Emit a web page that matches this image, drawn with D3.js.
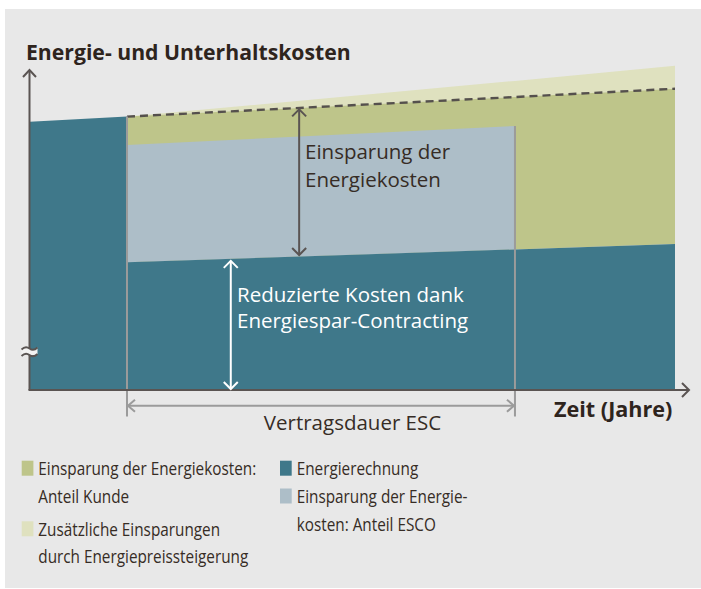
<!DOCTYPE html>
<html><head><meta charset="utf-8">
<script src="https://cdn.jsdelivr.net/npm/d3@7"></script>
<style>body{margin:0;background:#fff}svg{display:block}</style>
</head><body>
<script>
// ---- data (arbitrary cost units, years) ----
const years = [0, 2, 10, 13.3];
const costWithoutMeasures = [100, 101.9, 109.2, 112.3];       // dashed line / energy bill before
const costWithPriceIncrease = [null, 101.9, 115.2, 120.9];    // top of light olive
const escoShareTop = [null, 91.3, 98.4, null];                // top of light blue (ESCO share)
const reducedCost = [null, 47.6, 52.4, 54.4];                 // energy bill after measures
const contractStart = 2, contractEnd = 10;
const arrowYears = {savings: 5.55, reduced: 4.14};
const titleText = "Energie- und Unterhaltskosten";
const xAxisLabel = "Zeit (Jahre)";
const contractLabel = "Vertragsdauer ESC";
const savingsLabel = ["Einsparung der", "Energiekosten"];
const reducedLabel = ["Reduzierte Kosten dank", "Energiespar-Contracting"];
const legendLeft = [
  {key:"kunde", lines:["Einsparung der Energiekosten:", "Anteil Kunde"]},
  {key:"preis", lines:["Zusätzliche Einsparungen", "durch Energiepreissteigerung"]}
];
const legendRight = [
  {key:"rechnung", lines:["Energierechnung"]},
  {key:"esco", lines:["Einsparung der Energie-", "kosten: Anteil ESCO"]}
];
const colors = {kunde:"#bec58a", preis:"#dfe1bf", rechnung:"#3f788a", esco:"#adbec8"};

const W = 701, H = 589;
const FONT = "'Open Sans', 'Noto Sans', sans-serif";
const TXT = "#362c25", AX = "#5a5452", GRAY = "#9b9b9b";

const svg = d3.select("body").append("svg").attr("width", W).attr("height", H);
svg.append("rect").attr("x",5).attr("y",9).attr("width",W-5).attr("height",579).attr("fill","#e8e8e8");

const x = d3.scaleLinear().domain([0, 13.3]).range([30, 675]);
const y = d3.scaleLinear().domain([0, 100]).range([390, 121.7]);

const g = svg.append("g");

// light olive: between dashed baseline and price-increase line
g.append("path").datum([1,2,3].map(i => ({t:years[i], lo:costWithoutMeasures[i], hi:costWithPriceIncrease[i]})))
  .attr("d", d3.area().x(d=>x(d.t)).y0(d=>y(d.lo)).y1(d=>y(d.hi))).attr("fill", colors.preis);
// olive: between reduced cost and baseline
g.append("path").datum([1,2,3].map(i => ({t:years[i], lo:reducedCost[i], hi:costWithoutMeasures[i]})))
  .attr("d", d3.area().x(d=>x(d.t)).y0(d=>y(d.lo)).y1(d=>y(d.hi))).attr("fill", colors.kunde);
// light blue: ESCO share during contract
g.append("path").datum([1,2].map(i => ({t:years[i], lo:reducedCost[i], hi:escoShareTop[i]})))
  .attr("d", d3.area().x(d=>x(d.t)).y0(d=>y(d.lo)).y1(d=>y(d.hi))).attr("fill", colors.esco);
// teal: energy bill
const billPts = [{t:years[0], v:costWithoutMeasures[0]}, {t:years[1], v:costWithoutMeasures[1]},
                 {t:years[1], v:reducedCost[1]}, {t:years[2], v:reducedCost[2]}, {t:years[3], v:reducedCost[3]}];
g.append("path").datum(billPts)
  .attr("d", d3.area().x(d=>x(d.t)).y0(y(0)).y1(d=>y(d.v))).attr("fill", colors.rechnung);

// dashed baseline
g.append("path").datum([1,2,3].map(i => ({t:years[i], v:costWithoutMeasures[i]})))
  .attr("d", d3.line().x(d=>x(d.t)).y(d=>y(d.v)))
  .attr("fill","none").attr("stroke","#55504d").attr("stroke-width",2.4).attr("stroke-dasharray","8,5");

// contract vertical lines
const yBelow = 416.5;
g.append("line").attr("x1",x(contractStart)).attr("x2",x(contractStart))
  .attr("y1",y(costWithoutMeasures[1])).attr("y2",yBelow).attr("stroke",GRAY).attr("stroke-width",2);
g.append("line").attr("x1",x(contractEnd)).attr("x2",x(contractEnd))
  .attr("y1",y(escoShareTop[2])).attr("y2",yBelow).attr("stroke",GRAY).attr("stroke-width",2);

// axes
const axG = svg.append("g").attr("stroke",AX).attr("stroke-width",2).attr("fill","none");
axG.append("path").attr("d",`M${x(0)-0.5},${y(0)} V70`);
axG.append("path").attr("d",`M${x(0)-7},77 L${x(0)-0.5},70 L${x(0)+6},77`);
axG.append("path").attr("d",`M${x(0)-1.5},${y(0)} H689`);
axG.append("path").attr("d",`M682,${y(0)-7} L689,${y(0)} L682,${y(0)+7}`);

// axis break symbol
const bx = x(0)-0.5, by = 352;
svg.append("path").attr("d",`M${bx-8},${by-2.5} q4,-4 8,-1 t8,-1 L${bx+8},${by+2} q-4,2 -8,1 t-8,1 Z`).attr("fill","#f2f2f2");
svg.append("path").attr("d",`M${bx-8},${by-2.5} q4,-4 8,-1 t8,-1 M${bx-8},${by+4} q4,-4 8,-1 t8,-1`)
  .attr("fill","none").attr("stroke",AX).attr("stroke-width",1.8);

// contract duration arrow
const ca = svg.append("g").attr("stroke",GRAY).attr("stroke-width",2).attr("fill","none");
const cy = 405.7, xs = x(contractStart), xe = x(contractEnd);
ca.append("path").attr("d",`M${xs},${cy} H${xe}`);
ca.append("path").attr("d",`M${xs+8},${cy-6} L${xs+1},${cy} L${xs+8},${cy+6}`);
ca.append("path").attr("d",`M${xe-8},${cy-6} L${xe-1},${cy} L${xe-8},${cy+6}`);

// double arrows
function dblArrow(xp, y1, y2, color){
  const a = svg.append("g").attr("stroke",color).attr("stroke-width",2).attr("fill","none");
  a.append("path").attr("d",`M${xp},${y1} V${y2}`);
  a.append("path").attr("d",`M${xp-7},${y1+7} L${xp},${y1} L${xp+7},${y1+7}`);
  a.append("path").attr("d",`M${xp-7},${y2-7} L${xp},${y2} L${xp+7},${y2-7}`);
}
const interp = (arr, t) => {
  const f = (t - years[1])/(years[2]-years[1]); return arr[1] + f*(arr[2]-arr[1]); };
const sx = x(arrowYears.savings);
dblArrow(sx, y(interp(costWithoutMeasures, arrowYears.savings))+1.5, y(interp(reducedCost, arrowYears.savings))-1.5, AX);
const rx = x(arrowYears.reduced);
dblArrow(rx, y(interp(reducedCost, arrowYears.reduced))+2, y(0)-1, "#ffffff");

// texts
const txt = (sel, s, xx, yy, size, weight, fill) => sel.append("text").attr("x",xx).attr("y",yy)
  .attr("font-family",FONT).attr("font-size",size).attr("font-weight",weight).attr("fill",fill).text(s);
txt(svg, titleText, 26, 60, 21.2, 700, "#2e241d");
txt(svg, xAxisLabel, 554, 416.7, 21.6, 700, "#2e241d");
txt(svg, contractLabel, 352.5, 430, 20.5, 400, TXT).attr("text-anchor","middle");
savingsLabel.forEach((s,i)=>txt(svg, s, 305, 159.3+i*27.4, 20.5, 400, TXT));
reducedLabel.forEach((s,i)=>txt(svg, s, 237, 301.7+i*26.6, 20.5, 400, "#ffffff"));

// legend (slightly condensed to match the narrow source face)
const CONDENSE = 0.85;
function legendCol(items, sqX, txX, startY){
  let yy = startY;
  items.forEach(it=>{
    svg.append("rect").attr("x",sqX).attr("y",yy-14.3).attr("width",11.7).attr("height",15).attr("fill",colors[it.key]);
    it.lines.forEach((s,i)=>{
      const t = txt(svg, s, txX, yy + i*27.8, 18, 400, TXT);
      const w = t.node().getComputedTextLength();
      t.attr("textLength", w*CONDENSE).attr("lengthAdjust","spacingAndGlyphs");
    });
    yy += it.lines.length*27.8 + (it.lines.length>1 ? 5 : 0);
  });
}
legendCol(legendLeft, 21.7, 38.3, 475);
legendCol(legendRight, 280, 296.7, 475);
</script>
</body></html>
